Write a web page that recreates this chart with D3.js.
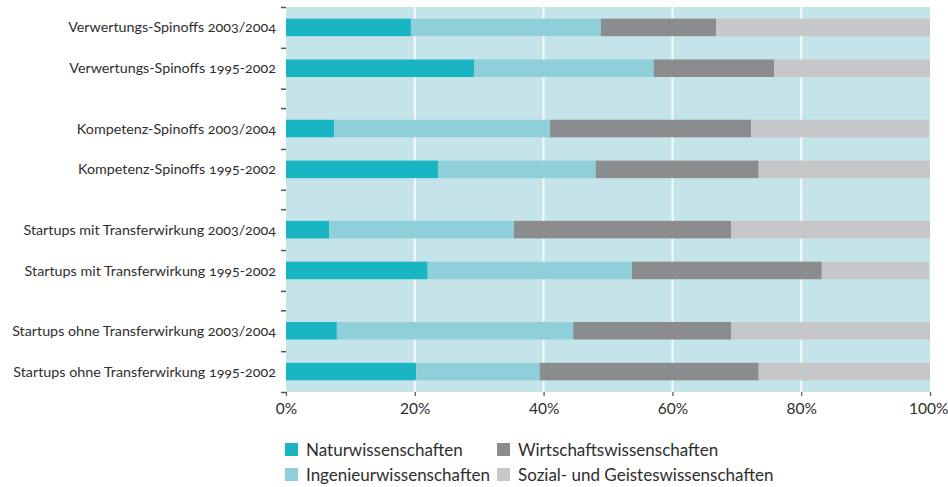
<!DOCTYPE html>
<html lang="de">
<head>
<meta charset="utf-8">
<script src="https://cdn.jsdelivr.net/npm/d3@7"></script>
<style>
  html, body { margin: 0; padding: 0; background: #fff; }
  svg { display: block; font-family: Lato, "Noto Sans", sans-serif; }
  .ylab text { font-size: 14.3px; fill: #2e2e2e; font-feature-settings: "onum"; }
  .xaxis text { font-size: 15.5px; fill: #2e2e2e; }
  .legend text { font-size: 17px; fill: #2e2e2e; }
</style>
</head>
<body>
<svg id="chart" width="948" height="487"></svg>
<script>
// Row labels, top to bottom; null marks a spacer row between groups
const rows = [
  "Verwertungs-Spinoffs 2003/2004",
  "Verwertungs-Spinoffs 1995-2002",
  null,
  "Kompetenz-Spinoffs 2003/2004",
  "Kompetenz-Spinoffs 1995-2002",
  null,
  "Startups mit Transferwirkung 2003/2004",
  "Startups mit Transferwirkung 1995-2002",
  null,
  "Startups ohne Transferwirkung 2003/2004",
  "Startups ohne Transferwirkung 1995-2002"
];

// Shares in percent, one value per labelled row
const natur      = [19.4, 29.2,  7.5, 23.6,  6.7, 22.0,  7.9, 20.2];
const ingenieur  = [29.5, 27.9, 33.5, 24.5, 28.7, 31.7, 36.7, 19.2];
const wirtschaft = [17.9, 18.7, 31.2, 25.3, 33.7, 29.5, 24.5, 34.0];
const sozial     = [33.2, 24.2, 27.6, 26.6, 30.9, 16.6, 30.9, 26.6];

const seriesNames = [
  "Naturwissenschaften",
  "Ingenieurwissenschaften",
  "Wirtschaftswissenschaften",
  "Sozial- und Geisteswissenschaften"
];
const seriesColors = ["#1ab5c3", "#8fcfd9", "#8b8c8e", "#c6c7c9"];

const xTicks = [0, 20, 40, 60, 80, 100];

// ---- layout ----
const svg = d3.select("#chart");
const plotLeft = 286, plotRight = 930, plotTop = 7, plotBottom = 392;
const barWeight = 21, gapWeight = 10;   // spacer rows are about half as tall

const labels = rows.filter(r => r !== null);
const weights = rows.map(r => r === null ? gapWeight : barWeight);
const edges = [0];
weights.forEach(w => edges.push(edges[edges.length - 1] + w));
const totalUnits = edges[edges.length - 1];

const x = d3.scaleLinear().domain([0, 100]).range([plotLeft, plotRight]);
const yU = d3.scaleLinear().domain([0, totalUnits]).range([plotTop, plotBottom]);

// centre of each labelled row in layout units
const centers = [];
rows.forEach((r, i) => { if (r !== null) centers.push((edges[i] + edges[i + 1]) / 2); });
const barH = yU(barWeight * 0.43) - yU(0);

// data table for stacking
const table = labels.map((lab, i) => ({
  label: lab, center: centers[i],
  [seriesNames[0]]: natur[i],
  [seriesNames[1]]: ingenieur[i],
  [seriesNames[2]]: wirtschaft[i],
  [seriesNames[3]]: sozial[i]
}));
const stacked = d3.stack().keys(seriesNames)(table);

// plot background
svg.append("rect")
  .attr("x", x(0)).attr("y", yU(0))
  .attr("width", x(100) - x(0)).attr("height", yU(totalUnits) - yU(0))
  .attr("fill", "#c5e4e9");

// vertical grid lines
svg.append("g").selectAll("line")
  .data(xTicks.filter(t => t > 0 && t < 100))
  .join("line")
  .attr("x1", d => x(d)).attr("x2", d => x(d))
  .attr("y1", yU(0)).attr("y2", yU(totalUnits))
  .attr("stroke", "#ffffff").attr("stroke-width", 2).attr("opacity", 0.85);

// stacked bars
svg.append("g").selectAll("g")
  .data(stacked)
  .join("g")
  .attr("fill", (d, i) => seriesColors[i])
  .selectAll("rect")
  .data(d => d)
  .join("rect")
  .attr("x", d => x(d[0]))
  .attr("width", d => x(d[1]) - x(d[0]))
  .attr("y", d => yU(d.data.center) - barH / 2)
  .attr("height", barH);

// category tick marks at every row boundary
const yTickAxis = d3.axisLeft(yU).tickValues(edges).tickSize(5).tickFormat("");
const gy = svg.append("g").attr("transform", `translate(${plotLeft},0)`).call(yTickAxis);
gy.select(".domain").remove();
gy.selectAll(".tick line").attr("stroke", "#555").attr("stroke-width", 1.5);

// row labels
const yLabAxis = d3.axisLeft(yU).tickValues(centers).tickSize(0).tickPadding(10)
  .tickFormat((d, i) => labels[i]);
const gl = svg.append("g").attr("class", "ylab").attr("transform", `translate(${plotLeft},0)`).call(yLabAxis);
gl.select(".domain").remove();
gl.attr("font-family", null).attr("font-size", null);

// x axis
const xAxis = d3.axisBottom(x).tickValues(xTicks).tickSize(4).tickPadding(7)
  .tickFormat(d => d + "%");
const gx = svg.append("g").attr("class", "xaxis")
  .attr("transform", `translate(0,${yU(totalUnits)})`).call(xAxis);
gx.select(".domain").remove();
gx.attr("font-family", null).attr("font-size", null);
gx.selectAll(".tick line").attr("stroke", "#555").attr("stroke-width", 1.2);
// keep the last label inside the page edge
gx.selectAll(".tick text").filter(d => d === 100)
  .attr("text-anchor", "end").attr("x", 948 - x(100));

// legend, two columns
const legendPos = [[285, 443], [285, 468], [497, 443], [497, 468]];
const lg = svg.append("g").attr("class", "legend").selectAll("g")
  .data(seriesNames)
  .join("g")
  .attr("transform", (d, i) => `translate(${legendPos[i][0]},${legendPos[i][1]})`);
lg.append("rect").attr("width", 13).attr("height", 13)
  .attr("fill", (d, i) => seriesColors[i]);
lg.append("text").attr("x", 21).attr("y", 6.5).attr("dy", "0.36em").text(d => d);
</script>
</body>
</html>
